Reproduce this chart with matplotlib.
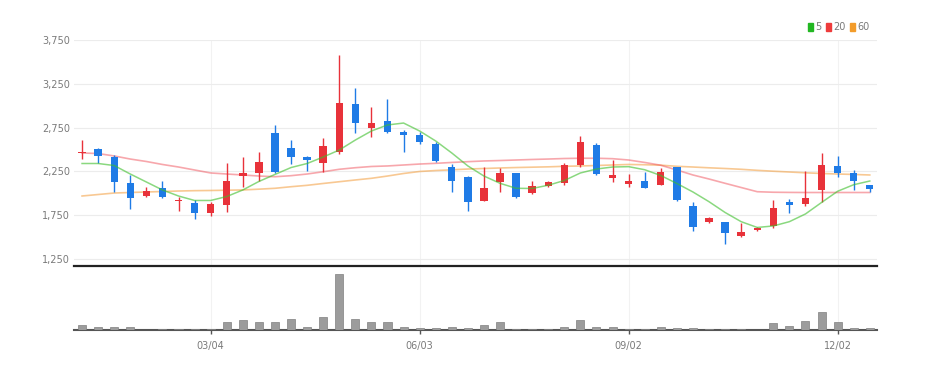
#!/usr/bin/env python3
"""
Weekly candlestick chart with 5/20/60 moving averages and volume panel.
"""

import matplotlib
matplotlib.use("Agg")
import matplotlib.pyplot as plt
from matplotlib.patches import Patch
import numpy as np

# weekly OHLC
opens = [2460, 2502, 2411, 2121, 1969, 2057, 1910, 1893, 1772, 1866,
         2201, 2235, 2692, 2517, 2418, 2349, 2475, 3016, 2749, 2829,
         2703, 2665, 2559, 2297, 2183, 1915, 2129, 2228, 2000, 2083,
         2121, 2323, 2548, 2175, 2106, 2144, 2098, 2297, 1855, 1669,
         1672, 1512, 1581, 1627, 1904, 1878, 2038, 2315, 2228, 2091]
highs = [2608, 2517, 2441, 2209, 2068, 2144, 1954, 1923, 1904, 2349,
         2418, 2468, 2780, 2608, 2426, 2631, 3579, 3199, 2989, 3073,
         2723, 2703, 2589, 2331, 2197, 2304, 2292, 2235, 2144, 2144,
         2343, 2654, 2571, 2380, 2220, 2247, 2285, 2304, 1904, 1726,
         1676, 1664, 1619, 1923, 1931, 2258, 2463, 2426, 2266, 2095]
lows = [2388, 2349, 2015, 1817, 1961, 1943, 1801, 1703, 1744, 1790,
        2068, 2144, 2228, 2331, 2255, 2243, 2449, 2692, 2639, 2692,
        2475, 2563, 2361, 2018, 1801, 1915, 2018, 1943, 1989, 2075,
        2091, 2297, 2212, 2129, 2068, 2060, 2091, 1915, 1570, 1657,
        1418, 1504, 1573, 1600, 1778, 1855, 1904, 2189, 2038, 2018]
closes = [2475, 2426, 2129, 1946, 2030, 1954, 1925, 1772, 1878, 2144,
          2228, 2361, 2240, 2418, 2380, 2536, 3034, 2806, 2806, 2696,
          2662, 2586, 2369, 2144, 1904, 2057, 2228, 1954, 2083, 2129,
          2323, 2586, 2220, 2205, 2144, 2060, 2247, 1927, 1612, 1715,
          1550, 1555, 1600, 1829, 1866, 1943, 2323, 2228, 2140, 2053]

# moving averages (include history before the window, so read not computed)
ma5 = [2340, 2340, 2317, 2220, 2129, 2038, 1969, 1918, 1918, 1963,
       2038, 2135, 2215, 2294, 2340, 2414, 2494, 2608, 2711, 2780,
       2802, 2711, 2597, 2460, 2312, 2197, 2114, 2057, 2055, 2092,
       2146, 2232, 2277, 2300, 2304, 2269, 2203, 2112, 2015, 1904,
       1781, 1676, 1610, 1627, 1676, 1764, 1895, 2023, 2098, 2140]
ma20 = [2460, 2454, 2426, 2391, 2363, 2329, 2300, 2266, 2232, 2220,
        2209, 2197, 2189, 2201, 2220, 2246, 2274, 2292, 2306, 2312,
        2323, 2334, 2342, 2352, 2361, 2369, 2374, 2380, 2386, 2391,
        2397, 2400, 2400, 2395, 2380, 2352, 2320, 2266, 2209, 2163,
        2114, 2066, 2018, 2012, 2010, 2009, 2009, 2009, 2009, 2009]
ma60 = [1969, 1986, 2003, 2009, 2015, 2020, 2026, 2030, 2032, 2035,
        2038, 2047, 2057, 2075, 2091, 2112, 2132, 2152, 2171, 2197,
        2226, 2249, 2260, 2268, 2277, 2283, 2289, 2294, 2298, 2302,
        2308, 2312, 2317, 2323, 2329, 2326, 2321, 2308, 2300, 2291,
        2283, 2274, 2262, 2252, 2243, 2234, 2226, 2220, 2215, 2209]

# volume (thousand shares)
volume = [46, 26, 26, 26, 2, 10, 10, 10, 10, 83,
          100, 77, 83, 110, 33, 127, 553, 110, 83, 83,
          33, 20, 15, 27, 20, 50, 80, 10, 10, 10,
          30, 100, 30, 30, 10, 10, 30, 23, 23, 10,
          10, 10, 2, 67, 43, 93, 177, 83, 23, 17]

tick_pos = [8, 21, 34, 47]
tick_labels = ['03/04', '06/03', '09/02', '12/02']
price_ticks = [1250, 1750, 2250, 2750, 3250, 3750]

UP = '#e8323a'
DOWN = '#1f7be6'
TXT = '#7a7a7a'


def draw_chart():
    plt.rcParams['font.family'] = ['Liberation Sans Narrow', 'DejaVu Sans']
    fig = plt.figure(figsize=(9.31, 3.70), dpi=100)

    ax = fig.add_axes([0.0795, 0.2811, 0.8625, 0.6108])
    axv = fig.add_axes([0.0795, 0.1081, 0.8625, 0.1676], sharex=ax)

    x = np.arange(len(opens))
    o = np.array(opens)
    c = np.array(closes)
    colors = [UP if cc >= oo else DOWN for oo, cc in zip(o, c)]

    # wicks + bodies
    ax.vlines(x, lows, highs, colors=colors, linewidth=1.0, zorder=3)
    body = np.where(np.abs(c - o) < 15, 15, c - o)
    ax.bar(x, body, bottom=o, width=0.46, color=colors, zorder=4)

    # moving averages
    ax.plot(x, ma60, color='#f39c3a', alpha=0.55, linewidth=1.2, zorder=2)
    ax.plot(x, ma20, color='#f0505a', alpha=0.5, linewidth=1.2, zorder=2)
    ax.plot(x, ma5, color='#3cbf2a', alpha=0.6, linewidth=1.1, zorder=5)

    ax.set_xlim(-0.5, 49.45)
    ax.set_ylim(1170, 3750)
    ax.set_yticks(price_ticks)
    ax.set_yticklabels([f'{v:,}' for v in price_ticks])
    ax.tick_params(axis='y', length=0, labelsize=7, colors=TXT, pad=3)
    ax.tick_params(axis='x', length=0, labelbottom=False)
    ax.grid(axis='y', color='#ececec', linewidth=0.8)
    ax.grid(axis='x', color='#f2f2f2', linewidth=0.8)
    ax.set_axisbelow(True)
    for s in ['top', 'right', 'left']:
        ax.spines[s].set_visible(False)
    ax.spines['bottom'].set_color('#222222')
    ax.spines['bottom'].set_linewidth(1.6)

    # legend (top right)
    handles = [Patch(color='#22b722'), Patch(color='#ee3b3b'), Patch(color='#f39c2a')]
    leg = ax.legend(handles, ['5', '20', '60'], ncol=3, frameon=False,
                    loc='lower right', bbox_to_anchor=(1.0, 1.0),
                    fontsize=7, handlelength=0.45, handleheight=0.8,
                    handletextpad=0.25, columnspacing=0.5, borderaxespad=0.4)
    for t in leg.get_texts():
        t.set_color(TXT)

    # volume panel
    axv.bar(x, volume, width=0.5, color='#9c9c9c', edgecolor='#808080',
            linewidth=0.5, zorder=3)
    axv.set_ylim(0, 612)
    axv.set_yticks([])
    axv.set_xticks(tick_pos)
    axv.set_xticklabels(tick_labels)
    axv.tick_params(axis='x', length=3, width=1, color='#555555',
                    labelsize=7, labelcolor=TXT, pad=5)
    axv.grid(axis='x', color='#f2f2f2', linewidth=0.8)
    axv.set_axisbelow(True)
    for s in ['top', 'right', 'left']:
        axv.spines[s].set_visible(False)
    axv.spines['bottom'].set_color('#555555')
    axv.spines['bottom'].set_linewidth(1.5)

    fig.savefig('out.png', dpi=100)
    print("saved out.png")


if __name__ == "__main__":
    draw_chart()
